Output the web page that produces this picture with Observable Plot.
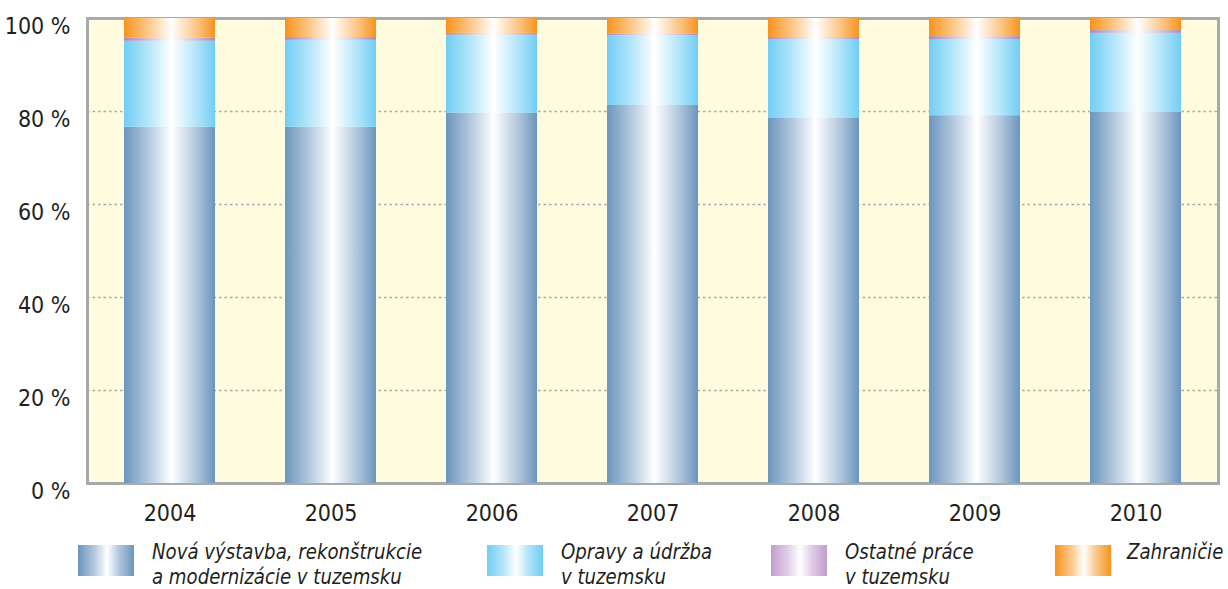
<!DOCTYPE html>
<html>
<head>
<meta charset="utf-8">
<script src="https://cdn.jsdelivr.net/npm/d3@7"></script>
<script src="https://cdn.jsdelivr.net/npm/@observablehq/plot@0.6"></script>
<style>
  html, body { margin: 0; padding: 0; background: #fff; }
  #wrap { position: relative; width: 1228px; height: 589px; font-family: "Liberation Sans Narrow", "DejaVu Sans Condensed", "Arial Narrow", sans-serif; }
  #chart svg { display: block; }
  .sw { position: absolute; width: 56px; height: 31px; }
  .tx { position: absolute; font-style: italic; font-size: 21px; line-height: 25px; color: #231f20; white-space: nowrap; transform: scaleX(0.96); transform-origin: left top; }
</style>
</head>
<body>
<div id="wrap">
  <div id="chart"></div>
  <div id="legend"></div>
</div>
<script>
const years = ["2004", "2005", "2006", "2007", "2008", "2009", "2010"];
const seriesNames = [
  "Nová výstavba, rekonštrukcie\na modernizácie v tuzemsku",
  "Opravy a údržba\nv tuzemsku",
  "Ostatné práce\nv tuzemsku",
  "Zahraničie"
];
const novaVystavba = [76.6, 76.6, 79.6, 81.3, 78.5, 79.1, 79.8];
const opravy       = [18.5, 18.7, 16.8, 15.0, 17.0, 16.4, 17.0];
const ostatne      = [0.65, 0.6, 0.4, 0.3, 0.4, 0.6, 0.6];
const zahranicie   = [4.25, 4.1, 3.2, 3.4, 4.1, 3.9, 2.6];
const yTicks = [0, 20, 40, 60, 80, 100];
const seriesColors = ["#6b95bd", "#70cdf4", "#a886b8", "#f7931e"];
const legendColors = ["#6b95bd", "#70cdf4", "#c39ccc", "#f7931e"];

const seriesValues = [novaVystavba, opravy, ostatne, zahranicie];
const data = [];
seriesValues.forEach((vals, si) => {
  years.forEach((y, i) => data.push({year: y, series: seriesNames[si], value: vals[i]}));
});
const gradIds = seriesNames.map((_, i) => `grad${i}`);

const font = `"Liberation Sans Narrow", "DejaVu Sans Condensed", "Arial Narrow", sans-serif`;

const chart = Plot.plot({
  width: 1228,
  height: 532,
  marginTop: 18,
  marginBottom: 49,
  marginLeft: 87,
  marginRight: 10,
  style: {fontFamily: font, fontSize: "23px", color: "#231f20", background: "transparent"},
  x: {domain: years, paddingInner: 0.437, paddingOuter: 0.22, label: null},
  y: {domain: [0, 100], label: null},
  color: {type: "ordinal", domain: seriesNames, range: gradIds.map(id => `url(#${id})`)},
  marks: [
    Plot.frame({fill: "#fffbdf", stroke: "#a7a9ab", strokeWidth: 3}),
    Plot.gridY(yTicks.slice(0, 5), {stroke: "#a9a9a9", strokeOpacity: 1, strokeWidth: 1.5, strokeDasharray: "2.5,3"}),
    Plot.barY(data, {x: "year", y: "value", fill: "series", z: "series", order: seriesNames}),
    Plot.axisY(yTicks, {tickSize: 0, tickPadding: 17, dy: 8, tickFormat: d => `${d} %`, fontSize: 23, fill: "#231f20", label: null}),
    Plot.axisX({tickSize: 0, tickPadding: 21, fontSize: 23, fill: "#231f20", label: null})
  ]
});
document.getElementById("chart").appendChild(chart);

// gradient definitions
const svg = d3.select(chart);
const defs = svg.insert("defs", ":first-child");
seriesColors.forEach((c, i) => {
  const g = defs.append("linearGradient").attr("id", gradIds[i])
    .attr("x1", "0").attr("x2", "1").attr("y1", "0").attr("y2", "0");
  const light = d3.interpolateRgb(c, "#ffffff");
  [[0, 0], [0.25, 0.45], [0.45, 0.85], [0.52, 1], [0.6, 0.85], [0.8, 0.45], [1, 0]].forEach(([o, t]) => {
    g.append("stop").attr("offset", o).attr("stop-color", light(t));
  });
});

// legend
const legend = document.getElementById("legend");
const swLeft = [78, 487, 771, 1055];
const txLeft = [152, 561, 845, 1127];
seriesNames.forEach((name, i) => {
  const lc = legendColors[i];
  const mid = d3.interpolateRgb(lc, "#fff")(0.5);
  const sw = document.createElement("div");
  sw.className = "sw";
  sw.style.left = swLeft[i] + "px";
  sw.style.top = "545px";
  sw.style.background = `linear-gradient(to right, ${lc} 0%, ${mid} 30%, #fff 52%, ${mid} 72%, ${lc} 100%)`;
  legend.appendChild(sw);
  const tx = document.createElement("div");
  tx.className = "tx";
  tx.style.left = txLeft[i] + "px";
  tx.style.top = "540px";
  tx.innerHTML = name.split("\n").join("<br>");
  legend.appendChild(tx);
});
</script>
</body>
</html>
